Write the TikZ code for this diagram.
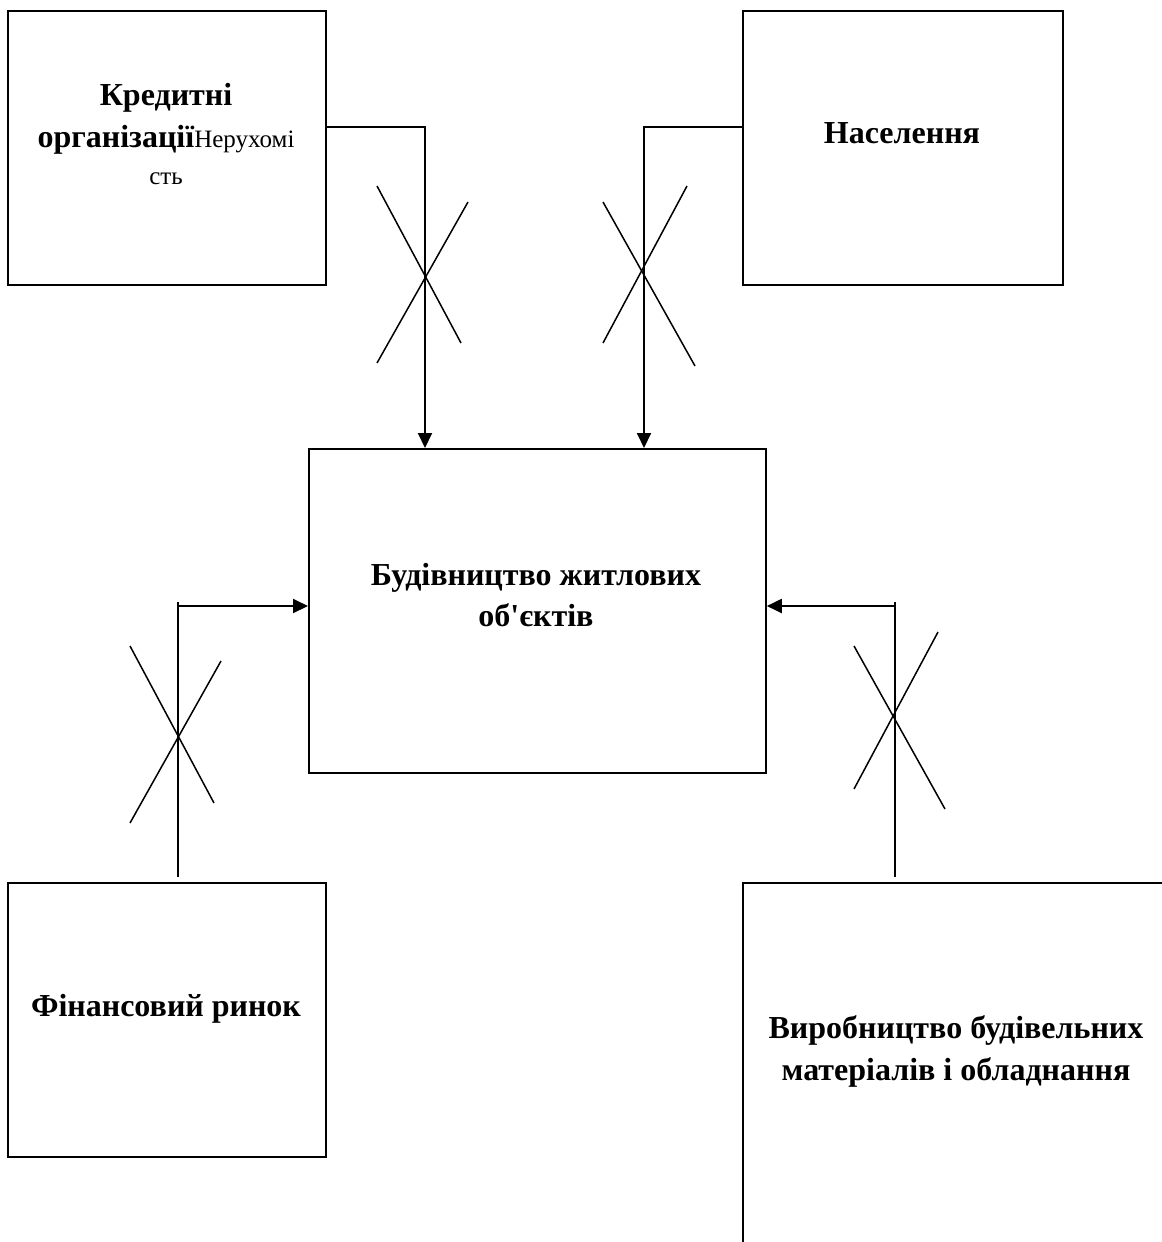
\documentclass[tikz,border=0pt]{standalone}
\usepackage{fontspec}
\setmainfont{Liberation Serif}[Ligatures=TeXOff]
\usetikzlibrary{arrows.meta}
\begin{document}
\begin{tikzpicture}[x=1bp,y=-1bp,
  box/.style={draw,line width=1.8bp,rectangle,inner sep=0pt,anchor=north west},
  conn/.style={line width=2bp},
  arr/.style={line width=2bp,-{Triangle[length=15bp,width=14bp]}},
  cross/.style={line width=1.5bp},
  bt/.style={anchor=base,inner sep=0pt,font=\fontsize{32bp}{40bp}\selectfont\bfseries},
  rt/.style={anchor=base,inner sep=0pt,font=\fontsize{25bp}{30bp}\selectfont\mdseries}]
\useasboundingbox (0,0) rectangle (1162,1242);
\clip (0,0) rectangle (1162,1242);
\fill[white] (0,0) rectangle (1162,1242);
% boxes
\node[box,minimum width=318bp,minimum height=274bp] (kred) at (7,10) {};
\node[box,minimum width=320bp,minimum height=274bp] (nasel) at (742,10) {};
\node[box,minimum width=457bp,minimum height=324bp] (bud) at (308,448) {};
\node[box,minimum width=318bp,minimum height=274bp] (fin) at (7,882) {};
\node[box,minimum width=470bp,minimum height=420bp] (vyr) at (742,882) {};
% texts
\node[bt] (t1) at (166,105) {Кредитні};
\node[bt] (t2) at (166,147) {організації{\mdseries\fontsize{25bp}{30bp}\selectfont Нерухомі}};
\node[rt] (t3) at (166,184) {сть};
\node[bt] (t4) at (902,143) {Населення};
\node[bt] (t5) at (536,585) {Будівництво житлових};
\node[bt] (t6) at (536,626) {об'єктів};
\node[bt] (t7) at (166,1016) {Фінансовий ринок};
\node[bt] (t8) at (956,1038) {Виробництво будівельних};
\node[bt] (t9) at (956,1080) {матеріалів і обладнання};
% connectors
\coordinate (c1) at (425,127);
\coordinate (c2) at (644,127);
\draw[arr] (kred.east |- c1) -- (c1) -- (c1 |- bud.north);
\draw[arr] (nasel.west |- c2) -- (c2) -- (c2 |- bud.north);
\coordinate (f1) at (178,877);
\coordinate (f2) at (178,602);
\coordinate (fh) at (178,606);
\draw[conn] (f1) -- (f2);
\draw[arr] (fh) -- (bud.west |- fh);
\coordinate (v1) at (895,877);
\coordinate (v2) at (895,602);
\coordinate (vh) at (895,606);
\draw[conn] (v1) -- (v2);
\draw[arr] (vh) -- (bud.east |- vh);
% crosses
\draw[cross] (377,186) -- (461,343);
\draw[cross] (468,202) -- (377,363);
\draw[cross] (603,202) -- (695,366);
\draw[cross] (687,186) -- (603,343);
\draw[cross] (130,646) -- (214,803);
\draw[cross] (221,661) -- (130,823);
\draw[cross] (854,646) -- (945,809);
\draw[cross] (938,632) -- (854,789);
\end{tikzpicture}
\end{document}
